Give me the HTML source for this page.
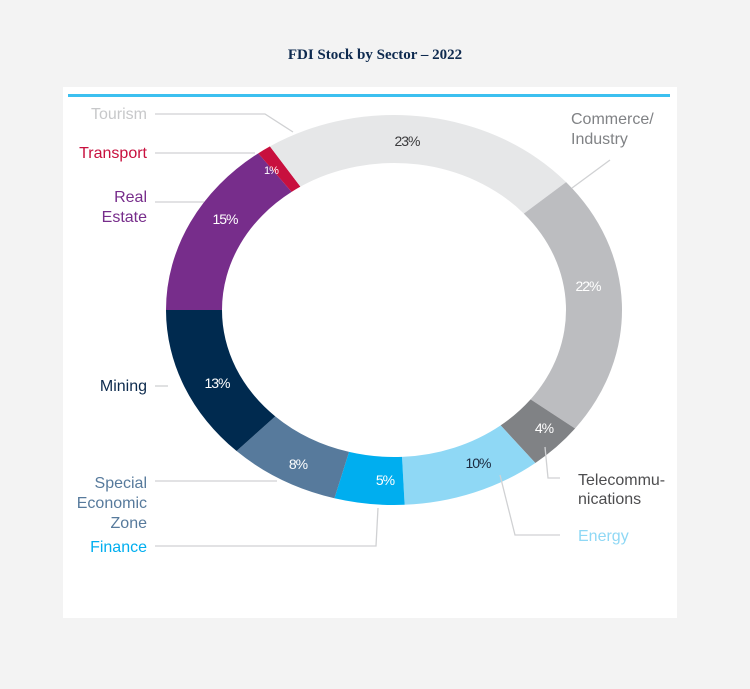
<!DOCTYPE html>
<html><head><meta charset="utf-8"><style>
body{margin:0;background:#f3f3f3;}
svg{display:block}
</style></head><body>
<svg id="s" width="750" height="689" xmlns="http://www.w3.org/2000/svg">
<rect width="750" height="689" fill="#f3f3f3"/>
<text x="375" y="59" text-anchor="middle" font-family="Liberation Serif, serif" font-weight="bold" font-size="15" fill="#0e2a4f">FDI Stock by Sector – 2022</text>
<rect x="63" y="87" width="614" height="531" fill="#fff"/>
<line x1="68" y1="95.5" x2="670" y2="95.5" stroke="#3cc0f0" stroke-width="3"/>
<g id="ring"></g>
<g stroke="#d0d1d3" stroke-width="1.3" fill="none">
<polyline points="155,114 265,114 293,132"/>
<polyline points="155,153 255,153"/>
<polyline points="155,202 204,202"/>
<polyline points="155,386 168,386"/>
<polyline points="155,481 277,481"/>
<polyline points="155,546 376,546 378,508"/>
<polyline points="500,475 515,535 560,535"/>
<polyline points="545,447 548,478 560,478"/>
<polyline points="610,160 572,188"/>
</g>
<g font-family="Liberation Sans, sans-serif" font-size="16" text-anchor="end">
<text x="147" y="119" fill="#c7c8ca">Tourism</text>
<text x="147" y="158" fill="#c8103e">Transport</text>
<text x="147" y="202" fill="#772d8b">Real</text>
<text x="147" y="222" fill="#772d8b">Estate</text>
<text x="147" y="391" fill="#0c2a4d">Mining</text>
<text x="147" y="488" fill="#577a9c">Special</text>
<text x="147" y="508" fill="#577a9c">Economic</text>
<text x="147" y="528" fill="#577a9c">Zone</text>
<text x="147" y="552" fill="#00aeef">Finance</text>
</g>
<g font-family="Liberation Sans, sans-serif" font-size="16">
<text x="571" y="124" fill="#808285">Commerce/</text>
<text x="571" y="144" fill="#808285">Industry</text>
<text x="578" y="485" fill="#4d4d4f">Telecommu-</text>
<text x="578" y="504" fill="#4d4d4f">nications</text>
<text x="578" y="541" fill="#8fd8f5">Energy</text>
</g>
<g font-family="Liberation Sans, sans-serif" font-size="14" text-anchor="middle" letter-spacing="-1">
<text x="407" y="146" fill="#3a3a3c">23%</text>
<text x="588" y="291" fill="#fff">22%</text>
<text x="544" y="433" fill="#fff">4%</text>
<text x="478" y="468" fill="#1b2a3f">10%</text>
<text x="385" y="485" fill="#fff">5%</text>
<text x="298" y="469" fill="#fff">8%</text>
<text x="217" y="388" fill="#fff">13%</text>
<text x="225" y="224" fill="#fff">15%</text>
<text x="271" y="174" fill="#fff" font-size="11">1%</text>
</g>
</svg>
<script>
var cx=394,cy=310,ro=[228,195],ri=[172,147];
var segs=[[15,"#772d8b"],[1,"#c8103e"],[23,"#e6e7e8"],[22,"#bcbdc0"],[4,"#808285"],[10,"#8fd8f5"],[5,"#00aeef"],[8,"#577a9c"],[13,"#002a4f"]];
var a=180,g=document.getElementById("ring"),h="";
function p(r,t){t=t*Math.PI/180;return (cx+r[0]*Math.cos(t)).toFixed(2)+","+(cy+r[1]*Math.sin(t)).toFixed(2);}
segs.forEach(function(s){var b=a+s[0]*360/101;var l=(b-a)>180?1:0;
h+='<path fill="'+s[1]+'" d="M'+p(ro,a)+' A'+ro[0]+','+ro[1]+' 0 '+l+' 1 '+p(ro,b)+' L'+p(ri,b)+' A'+ri[0]+','+ri[1]+' 0 '+l+' 0 '+p(ri,a)+' Z"/>';a=b;});
g.innerHTML=h;
</script>
</body></html>
